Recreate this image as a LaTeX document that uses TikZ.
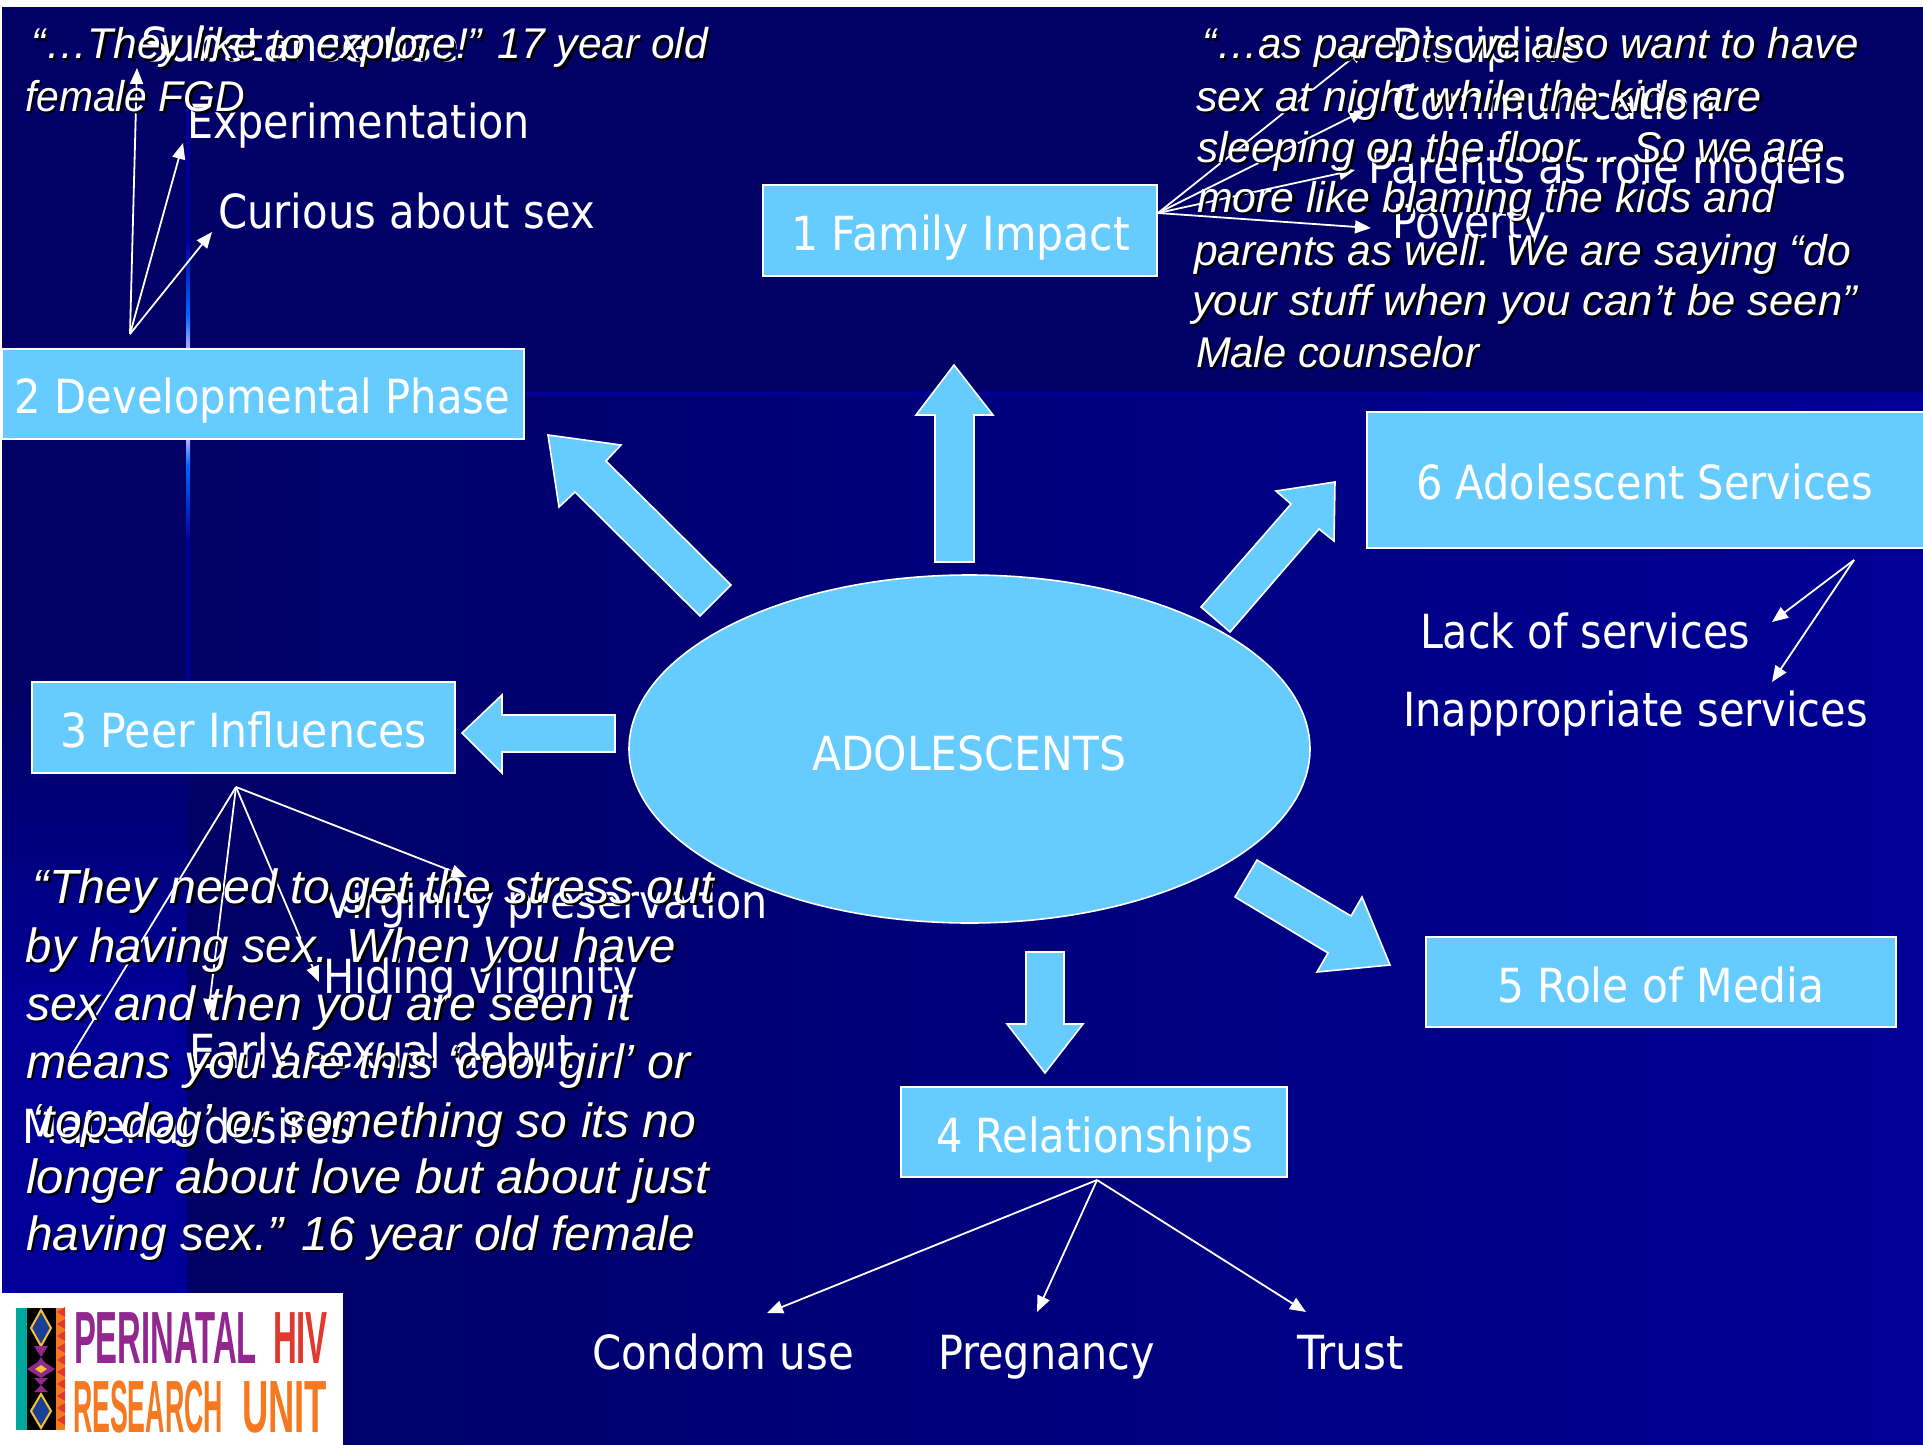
\documentclass[tikz,border=0pt]{standalone}
\usepackage{fontspec}
\usepackage{graphicx}
\usetikzlibrary{arrows.meta,shapes.geometric}
\setmainfont{DejaVu Sans}
\newfontfamily\quotefont{Liberation Sans}
\definecolor{navy}{HTML}{000066}
\definecolor{midb}{HTML}{000099}
\definecolor{sky}{HTML}{66CCFF}
\definecolor{lgteal}{HTML}{00A79D}
\definecolor{lgpurple}{HTML}{92278F}
\definecolor{lgred}{HTML}{E2382F}
\definecolor{lgorange}{HTML}{F47920}
\definecolor{lgyellow}{HTML}{F2C230}
\definecolor{lgblue}{HTML}{1B3F94}
% fit text to a given width, keeping the font's height
\newcommand{\fitw}[2]{\resizebox{#1pt}{\height}{#2}}
% a quote line: white italic with a black drop shadow
\newcommand{\qline}[2]{\resizebox{#1pt}{\height}{\rlap{\kern2.5pt\raisebox{-2.5pt}{\textcolor{black}{#2}}}\textcolor{white}{#2}}}
\tikzset{
  box/.style={draw=white,fill=sky,line width=1.6pt},
  blockarrow/.style={draw=white,fill=sky,line width=1.6pt,line join=miter},
  thin arrow/.style={draw=white,line width=1.8pt,-{Triangle[length=16pt,width=13pt]}},
  lab/.style={anchor=base west,inner sep=0pt,outer sep=0pt,text=white,font=\fontsize{47}{56}\selectfont},
  quo/.style={anchor=base west,inner sep=0pt,outer sep=0pt,font=\quotefont\itshape\fontsize{43}{50}\selectfont},
  quob/.style={anchor=base west,inner sep=0pt,outer sep=0pt,font=\quotefont\itshape\fontsize{48}{54}\selectfont},
  logo/.style={anchor=base west,inner sep=0pt,outer sep=0pt,font=\quotefont\bfseries\fontsize{74}{80}\selectfont},
}
\begin{document}
\begin{tikzpicture}[x=1pt,y=-1pt]
\useasboundingbox (0,0) rectangle (1923,1445);
% background
\fill[white] (0,0) rectangle (1923,1445);
\shade[left color=navy,right color=midb!92!navy] (187,392) rectangle (1923,1445);
\fill[navy] (2,7) rectangle (1923,392);
\fill[midb] (187,392) rectangle (1923,396);
\fill[navy] (2,392) rectangle (187,700);
\shade[top color=navy,bottom color=midb] (2,700) rectangle (187,1010);
\fill[midb] (2,1010) rectangle (187,1445);
\shade[top color=midb,bottom color=midb] (186,100) rectangle (190,240);
\shade[top color=midb,bottom color=blue!60!cyan] (186,240) rectangle (190,315);
\shade[top color=blue!60!cyan,bottom color=blue!30!white] (186,315) rectangle (190,349);
\shade[top color=blue!30!white,bottom color=blue!60!cyan] (186,439) rectangle (190,465);
\shade[top color=blue!60!cyan,bottom color=midb] (186,465) rectangle (190,541);
\fill[midb] (186,541) rectangle (190,682);
% ellipse and boxes
\node[box,ellipse,minimum width=681pt,minimum height=348pt,inner sep=0pt] (center) at (969.5,749) {};
\node[lab] (centerT) at (812,770) {\fitw{314}{ADOLESCENTS}};
\draw[box] (763,185) rectangle (1157,276);
\draw[box] (2,349) rectangle (524,439);
\draw[box] (32,682) rectangle (455,773);
\draw[box] (901,1087) rectangle (1287,1177);
\draw[box] (1426,937) rectangle (1896,1027);
\draw[box] (1367,412) rectangle (1925,548);
\node[lab] (b1) at (791,250) {\fitw{339}{1 Family Impact}};
\node[lab] (b2) at (15,413) {\fitw{495}{2 Developmental Phase}};
\node[lab] (b3) at (60,747) {\fitw{367}{3 Peer Influences}};
\node[lab] (b4) at (936,1152) {\fitw{317}{4 Relationships}};
\node[lab] (b5) at (1497,1002) {\fitw{327}{5 Role of Media}};
\node[lab] (b6) at (1416,499) {\fitw{457}{6 Adolescent Services}};
% block arrows
\draw[blockarrow] (954,365) -- (993,415) -- (974,415) -- (974,562) -- (935,562) -- (935,415) -- (916,415) -- cycle;
\draw[blockarrow] (548,435) -- (621,445) -- (606,461) -- (731,585) -- (700,616) -- (575,492) -- (559,507) -- cycle;
\draw[blockarrow] (1335,482) -- (1276,491) -- (1291,504) -- (1201,607) -- (1230,632) -- (1319,529) -- (1334,541) -- cycle;
\draw[blockarrow] (1257,860) -- (1351,916) -- (1362,897) -- (1390,965) -- (1317,972) -- (1328,953) -- (1235,897) -- cycle;
\draw[blockarrow] (1026,952) -- (1064,952) -- (1064,1024) -- (1083,1024) -- (1045,1073) -- (1007,1024) -- (1026,1024) -- cycle;
\draw[blockarrow] (462,733) -- (502,695) -- (502,715) -- (615,715) -- (615,752) -- (502,752) -- (502,773) -- cycle;
% labels
\node[lab] (subst) at (141,62) {\fitw{318}{Substance use}};
\node[lab] (exper) at (187,138) {\fitw{343}{Experimentation}};
\node[lab] (curious) at (218,228) {\fitw{377}{Curious about sex}};
\node[lab] (disc) at (1392,63) {\fitw{191}{Discipline}};
\node[lab] (comm) at (1392,119) {\fitw{324}{Communication}};
\node[lab] (role) at (1368,183) {\fitw{478}{Parents as role models}};
\node[lab] (pov) at (1392,238) {\fitw{155}{Poverty}};
\node[lab] (lack) at (1420,648) {\fitw{330}{Lack of services}};
\node[lab] (inap) at (1403,726) {\fitw{465}{Inappropriate services}};
\node[lab] (virg) at (324,918) {\fitw{444}{Virginity preservation}};
\node[lab] (hide) at (323,993) {\fitw{315}{Hiding virginity}};
\node[lab] (early) at (189,1068) {\fitw{385}{Early sexual debut}};
\node[lab] (mat) at (23,1143) {\fitw{329}{Material desires}};
\node[lab] (cond) at (592,1369) {\fitw{262}{Condom use}};
\node[lab] (preg) at (938,1369) {\fitw{217}{Pregnancy}};
\node[lab] (trust) at (1297,1369) {\fitw{107}{Trust}};
% connector ends
\coordinate (devO) at (130,334);
\coordinate (devA) at (137,68);
\coordinate (devB) at (183,143);
\coordinate (devC) at (212,232);
\coordinate (famO) at (1158,213);
\coordinate (famA) at (1365,48);
\coordinate (famB) at (1365,110);
\coordinate (famC) at (1355,170);
\coordinate (famD) at (1371,228);
\coordinate (peerO) at (236,787);
\coordinate (peerA) at (467,877);
\coordinate (peerB) at (319,982);
\coordinate (peerC) at (208,1015);
\coordinate (peerD) at (70,1058);
\coordinate (svcO) at (1854,560);
\coordinate (svcA) at (1772,622);
\coordinate (svcB) at (1772,682);
\coordinate (relO) at (1097,1180);
\coordinate (relA) at (767,1313);
\coordinate (relB) at (1037,1312);
\coordinate (relC) at (1306,1312);
\draw[thin arrow] (devO) -- (devA);
\draw[thin arrow] (devO) -- (devB);
\draw[thin arrow] (devO) -- (devC);
\draw[thin arrow] (famO) -- (famA);
\draw[thin arrow] (famO) -- (famB);
\draw[thin arrow] (famO) -- (famC);
\draw[thin arrow] (famO) -- (famD);
\draw[thin arrow] (peerO) -- (peerA);
\draw[thin arrow] (peerO) -- (peerB);
\draw[thin arrow] (peerO) -- (peerC);
\draw[draw=white,line width=1.8pt] (peerO) -- (peerD);
\draw[thin arrow] (svcO) -- (svcA);
\draw[thin arrow] (svcO) -- (svcB);
\draw[thin arrow] (relO) -- (relA);
\draw[thin arrow] (relO) -- (relB);
\draw[thin arrow] (relO) -- (relC);
% quotes
\node[quo] (q1a) at (31,59) {\qline{677}{“…They like to explore!” 17 year old}};
\node[quo] (q1b) at (25,111) {\qline{220}{female FGD}};
\node[quo] (q2a) at (1202,59) {\qline{657}{“…as parents we also want to have}};
\node[quo] (q2b) at (1196,111) {\qline{566}{sex at night while the kids are}};
\node[quo] (q2c) at (1197,162) {\qline{628}{sleeping on the floor… So we are}};
\node[quo] (q2d) at (1197,212) {\qline{578}{more like blaming the kids and}};
\node[quo] (q2e) at (1194,265) {\qline{657}{parents as well. We are saying “do}};
\node[quo] (q2f) at (1192,315) {\qline{665}{your stuff when you can’t be seen”}};
\node[quo] (q2g) at (1196,367) {\qline{283}{Male counselor}};
\node[quob] (q3a) at (33,903) {\qline{681}{“They need to get the stress out}};
\node[quob] (q3b) at (26,962) {\qline{650}{by having sex. When you have}};
\node[quob] (q3c) at (26,1020) {\qline{606}{sex and then you are seen it}};
\node[quob] (q3d) at (26,1078) {\qline{665}{means you are this ‘cool girl’ or}};
\node[quob] (q3e) at (31,1137) {\qline{665}{‘top dog’ or something so its no}};
\node[quob] (q3f) at (26,1193) {\qline{683}{longer about love but about just}};
\node[quob] (q3g) at (26,1250) {\qline{669}{having sex.” 16 year old female}};
% logo
\fill[white] (2,1293) rectangle (343,1445);
\fill[lgteal] (16,1308) rectangle (27,1430);
\fill[black] (27,1308) rectangle (56,1430);
\fill[lgorange] (56,1308) rectangle (65,1430);
\foreach \yy in {1312,1324,...,1424} {\fill[lgred] (65,\yy-5) -- (57,\yy) -- (65,\yy+5) -- cycle;}
\fill[lgblue,draw=lgyellow,line width=2pt] (41,1310) -- (51,1328) -- (41,1346) -- (31,1328) -- cycle;
\fill[lgblue,draw=lgyellow,line width=2pt] (41,1394) -- (51,1411) -- (41,1428) -- (31,1411) -- cycle;
\fill[lgpurple] (34,1346) -- (48,1346) -- (34,1368) -- (48,1368) -- cycle;
\fill[lgpurple] (34,1378) -- (48,1378) -- (34,1392) -- (48,1392) -- cycle;
\fill[lgpurple] (27,1369) -- (41,1360) -- (55,1369) -- (41,1378) -- cycle;
\fill[lgyellow] (35,1369) -- (41,1365) -- (47,1369) -- (41,1373) -- cycle;
\node[logo,text=lgpurple] (logoA) at (74,1363) {\fitw{183}{PERINATAL}};
\node[logo,text=lgred] (logoB) at (273,1363) {\fitw{55}{HIV}};
\node[logo,text=lgorange] (logoC) at (73,1432) {\fitw{150}{RESEARCH}};
\node[logo,text=lgorange] (logoD) at (242,1432) {\fitw{85}{UNIT}};
\end{tikzpicture}
\end{document}
